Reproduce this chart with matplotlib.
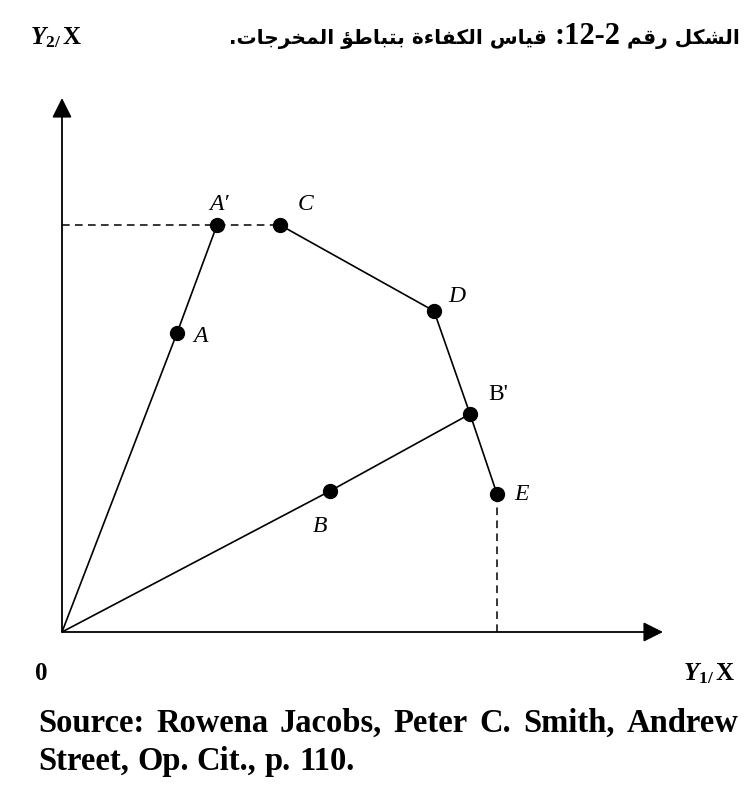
import matplotlib
matplotlib.use("Agg")
import matplotlib.pyplot as plt

W, H = 753, 787

# Input-output efficiency diagram: rays from the origin and the output frontier
point_names = ["A", "A′", "C", "D", "B'", "E", "B"]
point_x = [11.5, 15.5, 21.8, 37.2, 40.8, 43.5, 26.8]
point_y = [29.9, 40.7, 40.7, 32.1, 21.8, 13.8, 14.1]

rays = [["A", "A′"], ["B", "B'"]]
frontier = ["C", "D", "B'", "E"]

source_lines = [
    "Source: Rowena Jacobs, Peter C. Smith, Andrew",
    "Street, Op. Cit., p. 110.",
]

# label offsets from each point, in pixels
label_offsets = {"A": (23, -4), "A′": (2, 20), "C": (26, 21), "D": (23, 14),
                 "B'": (28, 20), "E": (24, 0), "B": (-10, -36)}

plt.rcParams["mathtext.fontset"] = "custom"
plt.rcParams["mathtext.rm"] = "Liberation Serif:bold"
plt.rcParams["mathtext.it"] = "Liberation Serif:italic:bold"
plt.rcParams["mathtext.bf"] = "Liberation Serif:bold"

# --- minimal Arabic shaping (presentation forms, visual order) ---
FORMS = {
    "ا": ("\uFE8D", "\uFE8E", None, None),
    "ب": ("\uFE8F", "\uFE90", "\uFE91", "\uFE92"),
    "ة": ("\uFE93", "\uFE94", None, None),
    "ت": ("\uFE95", "\uFE96", "\uFE97", "\uFE98"),
    "ج": ("\uFE9D", "\uFE9E", "\uFE9F", "\uFEA0"),
    "خ": ("\uFEA5", "\uFEA6", "\uFEA7", "\uFEA8"),
    "ر": ("\uFEAD", "\uFEAE", None, None),
    "س": ("\uFEB1", "\uFEB2", "\uFEB3", "\uFEB4"),
    "ش": ("\uFEB5", "\uFEB6", "\uFEB7", "\uFEB8"),
    "ط": ("\uFEC1", "\uFEC2", "\uFEC3", "\uFEC4"),
    "ف": ("\uFED1", "\uFED2", "\uFED3", "\uFED4"),
    "ق": ("\uFED5", "\uFED6", "\uFED7", "\uFED8"),
    "ك": ("\uFED9", "\uFEDA", "\uFEDB", "\uFEDC"),
    "ل": ("\uFEDD", "\uFEDE", "\uFEDF", "\uFEE0"),
    "م": ("\uFEE1", "\uFEE2", "\uFEE3", "\uFEE4"),
    "ي": ("\uFEF1", "\uFEF2", "\uFEF3", "\uFEF4"),
    "ء": ("\uFE80", None, None, None),
    "ؤ": ("\uFE85", "\uFE86", None, None),
}


def joins_left(ch):
    f = FORMS.get(ch)
    return f is not None and f[2] is not None


def joins_right(ch):
    f = FORMS.get(ch)
    return f is not None and f[1] is not None


def shape(word):
    out = []
    for i, ch in enumerate(word):
        prev = word[i - 1] if i > 0 else None
        nxt = word[i + 1] if i + 1 < len(word) else None
        p = prev is not None and joins_left(prev) and joins_right(ch)
        n = nxt is not None and joins_left(ch) and joins_right(nxt)
        iso, fin, ini, med = FORMS[ch]
        if p and n:
            out.append(med)
        elif p:
            out.append(fin)
        elif n:
            out.append(ini)
        else:
            out.append(iso)
    return "".join(reversed(out))


def rtl(sentence):
    return " ".join(shape(w) for w in reversed(sentence.split(" ")))


fig = plt.figure(figsize=(W / 100, H / 100), dpi=100)
ax = fig.add_axes([0, 0, 1, 1])
ax.set_xlim(-6.2, (W - 62) / 10)
ax.set_ylim(-(H - 632) / 10, 63.2)
ax.axis("off")

pos = dict(zip(point_names, zip(point_x, point_y)))
line_kw = dict(color="black", lw=1.2, solid_capstyle="butt")

# axes with arrow heads
arrow = dict(arrowstyle="-|>,head_length=0.6,head_width=0.3", mutation_scale=20,
             lw=1.3, color="black", shrinkA=0, shrinkB=0)
ax.annotate("", xy=(60.1, 0), xytext=(0, 0), arrowprops=arrow)
ax.annotate("", xy=(0, 53.4), xytext=(0, 0), arrowprops=arrow)

# rays from origin
for inner, outer in rays:
    ax.plot([0, pos[inner][0], pos[outer][0]], [0, pos[inner][1], pos[outer][1]], **line_kw)

# frontier
ax.plot([pos[p][0] for p in frontier], [pos[p][1] for p in frontier], **line_kw)

# dashed guides
ax.plot([0, pos["C"][0]], [pos["A′"][1], pos["C"][1]], color="black", lw=1.1,
        dashes=(5, 3.5))
ax.plot([pos["E"][0], pos["E"][0]], [0, pos["E"][1]], color="black", lw=1.1,
        dashes=(5, 3.5))

ax.plot(point_x, point_y, "o", ms=10, color="black", zorder=3)

for name, x, y in zip(point_names, point_x, point_y):
    dx, dy = label_offsets[name]
    ax.annotate(name, (x, y), xytext=(dx * 0.72, dy * 0.72), textcoords="offset points",
                ha="center", va="center", fontsize=17, family="Liberation Serif",
                style="normal" if name == "B'" else "italic")

fig.canvas.draw()
renderer = fig.canvas.get_renderer()

# title, laid out right to left
arabic_kw = dict(fontsize=14.5, fontweight="bold", family=["DejaVu Sans"])
number_kw = dict(fontsize=22, fontweight="bold", family=["Liberation Serif"])
title_parts = [
    (" " + rtl("الشكل رقم"), arabic_kw),
    (":12-2", number_kw),
    ("." + rtl("قياس الكفاءة بتباطؤ المخرجات") + " ", arabic_kw),
]
x_right = 740
for text, kw in title_parts:
    t = fig.text(x_right / W, 1 - 44 / H, text, ha="right", va="baseline", **kw)
    x_right -= t.get_window_extent(renderer).width

fig.text(30 / W, 1 - 44 / H, r"$Y_{2/}\,\mathbf{X}$", ha="left", va="baseline", fontsize=18)
fig.text(41 / W, 1 - 680 / H, "0", ha="center", va="baseline", fontsize=18,
         fontweight="bold", family="Liberation Serif")
fig.text(735 / W, 1 - 680 / H, r"$Y_{1/}\,\mathbf{X}$", ha="right", va="baseline", fontsize=18)

# justified source note
left, right = 38, 738
for i, line in enumerate(source_lines):
    base = 1 - (732 + 38 * i) / H
    words = line.split(" ")
    texts = [fig.text(0, base, w, ha="left", va="baseline", fontsize=23.5,
                      fontweight="bold", family="Liberation Serif") for w in words]
    widths = [t.get_window_extent(renderer).width for t in texts]
    if i < len(source_lines) - 1:
        gap = (right - left - sum(widths)) / (len(words) - 1)
    else:
        gap = texts[0].get_fontsize() * 0.25 * 100 / 72
    x = left
    for t, w in zip(texts, widths):
        t.set_x(x / W)
        x += w + gap

fig.savefig("out.png", dpi=100)
